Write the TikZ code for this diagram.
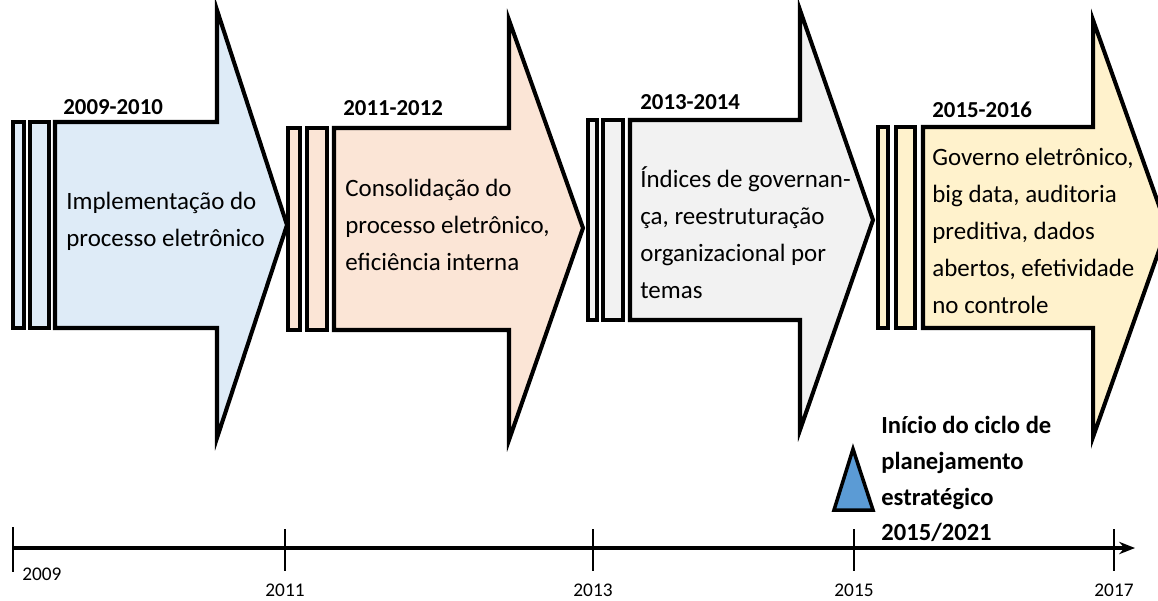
\documentclass[tikz,border=0pt]{standalone}
\usepackage{fontspec}
\setmainfont{Carlito}
\usetikzlibrary{arrows.meta}
\definecolor{azul}{HTML}{DEEBF7}
\definecolor{salmao}{HTML}{FBE5D6}
\definecolor{cinza}{HTML}{F2F2F2}
\definecolor{amarelo}{HTML}{FFF2CC}
\definecolor{azulforte}{HTML}{5B9BD5}

\begin{document}
\begin{tikzpicture}[x=0.02cm,y=-0.02cm,
    seta/.style={draw=black,line width=2.3pt,line join=miter},
    barra/.style={draw=black,line width=2pt},
    periodo/.style={font=\bfseries\fontsize{13}{15}\selectfont,inner sep=0pt,anchor=west},
    texto/.style={font=\fontsize{14.2}{21}\selectfont,align=left,inner sep=0pt,anchor=west},
    ano/.style={font=\fontsize{11}{13}\selectfont,inner sep=0pt}]
    \useasboundingbox (0,0) rectangle (1158,600);
    \clip (0,0) rectangle (1158,600);

    % Setas com as duas barras
    \foreach \a/\b/\c/\d/\l/\t/\u/\hx/\ht/\px/\py/\hb/\cor in {
        13/24/30/49/55/122/328/217/10/287/225/438/azul,
        288/300/307/327/334/128/330/509/20/583/228/440/salmao,
        588/597/603/623/630/120/320/800/10/873/220/430/cinza,
        878/888/896/915/923/127/328/1093/20/1167/228/437/amarelo} {
        \draw[barra,fill=\cor] (\a,\t) rectangle (\b,\u);
        \draw[barra,fill=\cor] (\c,\t) rectangle (\d,\u);
        \draw[seta,fill=\cor] (\l,\t) -- (\hx,\t) -- (\hx,\ht) -- (\px,\py)
            -- (\hx,\hb) -- (\hx,\u) -- (\l,\u) -- cycle;
    }

    % Periodos
    \node[periodo] (p1) at (63,107) {2009-2010};
    \node[periodo] (p2) at (343,108) {2011-2012};
    \node[periodo] (p3) at (640,102) {2013-2014};
    \node[periodo] (p4) at (932,110) {2015-2016};

    % Textos das setas
    \node[texto] (t1) at (66,221) {Implementação do\\processo eletrônico};
    \node[texto] (t2) at (345,225) {Consolidação do\\processo eletrônico,\\eficiência interna};
    \node[texto] (t3) at (640,233) {Índices de governan-\\ça, reestruturação\\organizacional por\\temas};
    \node[texto] (t4) at (932,231) {Governo eletrônico,\\big data, auditoria\\preditiva, dados\\abertos, efetividade\\no controle};

    % Eixo do tempo
    \coordinate (inicio) at (13,548);
    \coordinate (fim) at (1135,548);
    \draw[line width=2pt,-{Stealth[length=9pt,width=7pt]}] (inicio) -- (fim);

    % Marcas e anos
    \draw[line width=1.6pt] (13,527) -- (13,572);
    \node[ano,anchor=west] (a2009) at (22,574) {2009};
    \foreach \x/\ano in {285/2011, 593/2013, 854/2015, 1114/2017} {
        \draw[line width=1.6pt] (\x,529) -- (\x,571);
        \node[ano] (a\ano) at (\x,590) {\ano};
    }

    % Marco do planejamento
    \draw[line width=2pt,line join=miter,fill=azulforte] (834,510) -- (853,449) -- (873,510) -- cycle;
    \node[font=\bfseries\fontsize{14}{20.4}\selectfont,align=left,inner sep=0pt,anchor=west] (marco) at (881,479)
        {Início do ciclo de\\planejamento\\estratégico\\2015/2021};
\end{tikzpicture}
\end{document}
